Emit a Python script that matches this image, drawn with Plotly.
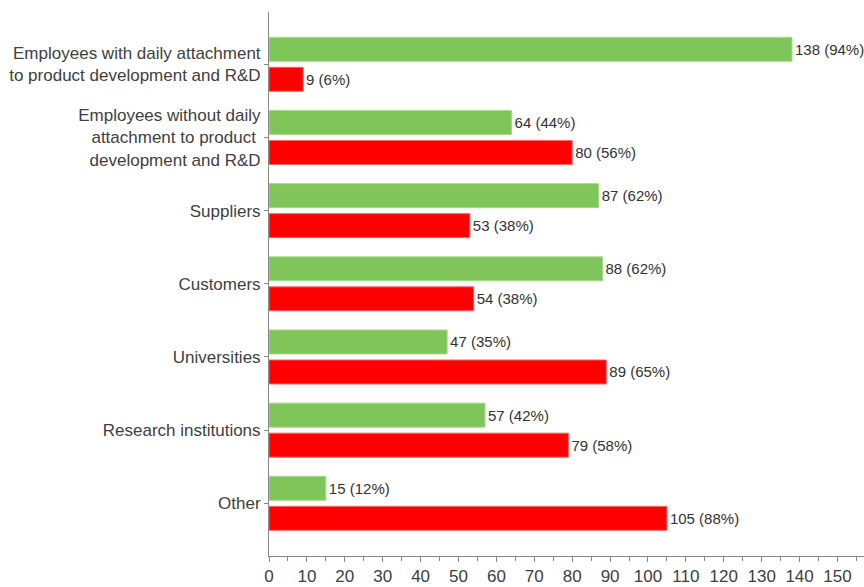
import plotly.graph_objects as go

categories = [
    "Employees with daily attachment<br>to product development and R&D",
    "Employees without daily<br>attachment to product <br>development and R&D",
    "Suppliers",
    "Customers",
    "Universities",
    "Research institutions",
    "Other",
]
green_values = [138, 64, 87, 88, 47, 57, 15]
green_pct = [94, 44, 62, 62, 35, 42, 12]
red_values = [9, 80, 53, 54, 89, 79, 105]
red_pct = [6, 56, 38, 38, 65, 58, 88]
x_ticks = list(range(0, 151, 10))

FONT = "Liberation Sans, Arial, sans-serif"

fig = go.Figure()
fig.add_trace(go.Bar(
    y=categories, x=green_values, orientation="h",
    marker=dict(color="#80c55a", line=dict(color="#a6d98b", width=1)),
    text=[f"{v} ({p}%)" for v, p in zip(green_values, green_pct)],
    textposition="outside", cliponaxis=False,
    textfont=dict(family=FONT, size=15, color="#333333"),
    showlegend=False,
))
fig.add_trace(go.Bar(
    y=categories, x=red_values, orientation="h",
    marker=dict(color="#ff0000", line=dict(color="#ff6666", width=1)),
    text=[f"{v} ({p}%)" for v, p in zip(red_values, red_pct)],
    textposition="outside", cliponaxis=False,
    textfont=dict(family=FONT, size=15, color="#333333"),
    showlegend=False,
))

fig.update_layout(
    width=864, height=587,
    margin=dict(l=269, r=0, t=12, b=31),
    barmode="group", bargap=0.18, bargroupgap=0.2,
    plot_bgcolor="white", paper_bgcolor="white",
    font=dict(family=FONT, color="#404040"),
    xaxis=dict(
        range=[0, 157], tickvals=x_ticks, showgrid=False, zeroline=False,
        showline=True, linecolor="#888888", linewidth=1, automargin=False,
        ticks="outside", ticklen=5, tickcolor="#888888",
        minor=dict(dtick=5, tick0=0, ticks="outside", ticklen=4, tickcolor="#888888"),
        tickfont=dict(family=FONT, size=17, color="#404040"),
    ),
    yaxis=dict(
        range=[6.72, -0.715], showgrid=False, zeroline=False,
        showline=True, linecolor="#888888", linewidth=1, automargin=False,
        ticks="outside", ticklen=4, tickcolor="#888888",
        tickfont=dict(family=FONT, size=17, color="#404040"),
    ),
)

fig.write_html("out.html")
